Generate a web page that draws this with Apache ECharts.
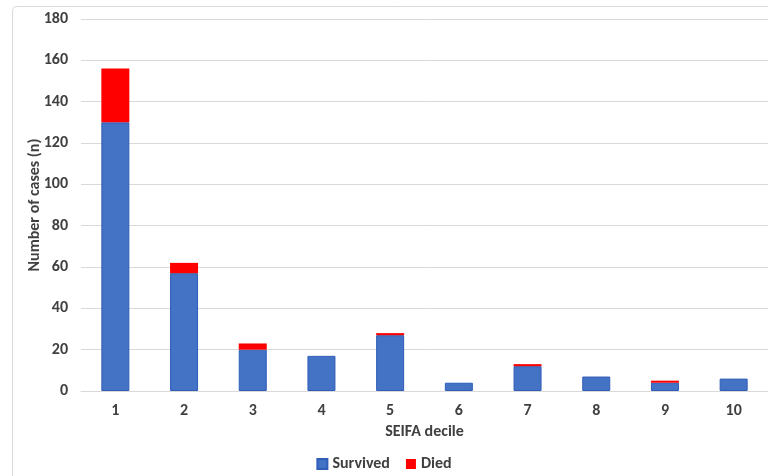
<!DOCTYPE html>
<html>
<head>
<meta charset="utf-8">
<script src="https://cdn.jsdelivr.net/npm/echarts@6/dist/echarts.min.js"></script>
<style>
  html, body { margin: 0; padding: 0; background: #fff; }
  #chart { width: 768px; height: 476px; }
</style>
</head>
<body>
<div id="chart"></div>
<script>
// SEIFA decile categories
const deciles = ['1', '2', '3', '4', '5', '6', '7', '8', '9', '10']
// counts per decile
const survived = [130, 57, 20, 17, 27, 4, 12, 7, 4, 6]
const died = [26, 5, 3, 0, 1, 0, 1, 0, 1, 0]

const labelFont = 'Carlito, Lato, "Open Sans", sans-serif'

const chart = echarts.init(document.getElementById('chart'))
chart.setOption({
  animation: false,
  textStyle: { fontFamily: labelFont },
  graphic: [{
    type: 'rect',
    shape: { x: 12.5, y: 6.5, width: 800, height: 500, r: 4 },
    style: { fill: 'none', stroke: '#d9d9d9', lineWidth: 1 },
    silent: true
  }],
  grid: { left: 81, top: 19, width: 689, height: 372 },
  legend: {
    bottom: -1,
    left: 'center',
    itemWidth: 10,
    itemHeight: 10,
    itemGap: 16,
    textStyle: { color: '#404040', fontSize: 16, fontWeight: 'bold' },
    data: [
      { name: 'Survived', icon: 'rect' },
      { name: 'Died', icon: 'rect' }
    ]
  },
  xAxis: {
    type: 'category',
    data: deciles,
    name: 'SEIFA decile',
    nameLocation: 'middle',
    nameGap: 32,
    nameTextStyle: { color: '#404040', fontSize: 16, fontWeight: 'bold' },
    axisLine: { lineStyle: { color: '#d9d9d9' } },
    axisTick: { show: false },
    axisLabel: { color: '#404040', fontSize: 16, fontWeight: 'bold', margin: 12 }
  },
  yAxis: {
    type: 'value',
    min: 0,
    max: 180,
    interval: 20,
    name: 'Number of cases (n)',
    nameLocation: 'middle',
    nameGap: 38,
    nameMoveOverlap: false,
    nameTextStyle: { color: '#404040', fontSize: 16, fontWeight: 'bold' },
    axisLine: { show: false },
    axisTick: { show: false },
    splitLine: { lineStyle: { color: '#d9d9d9', width: 1 } },
    axisLabel: { color: '#404040', fontSize: 16, fontWeight: 'bold', margin: 13 }
  },
  series: [
    {
      name: 'Survived',
      type: 'bar',
      stack: 'cases',
      data: survived,
      barWidth: 28,
      itemStyle: { color: '#4472C4', borderColor: '#2F5DB8', borderWidth: 1 }
    },
    {
      name: 'Died',
      type: 'bar',
      stack: 'cases',
      data: died,
      barWidth: 28,
      itemStyle: { color: '#FF0000' }
    }
  ]
})
</script>
</body>
</html>
